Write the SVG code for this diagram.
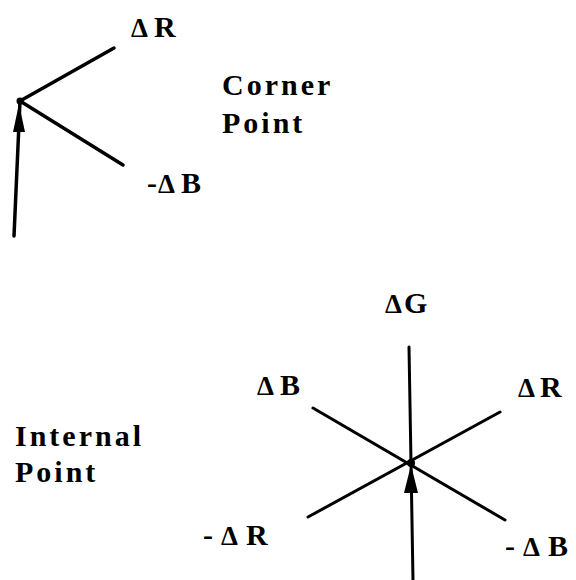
<svg xmlns="http://www.w3.org/2000/svg" width="576" height="580" viewBox="0 0 576 580">
<style>
.t{font-family:"Liberation Serif",serif;font-weight:bold;font-size:30px;fill:#000;letter-spacing:3px}
.d{font-family:"Liberation Serif",serif;font-weight:bold;font-size:30px;fill:#000}
.s{font-size:27px}
.l{stroke:#000;stroke-width:3.5;stroke-linecap:round;fill:none}
.m{stroke:#000;stroke-width:3;stroke-linecap:round;fill:none}
.a{fill:#000}
</style>
<rect width="576" height="580" fill="#fff"/>
<g id="connectors">
<line class="l" x1="20" y1="101" x2="114" y2="48"/>
<line class="l" x1="20" y1="101" x2="123" y2="165"/>
<line class="l" x1="14" y1="236" x2="20" y2="101"/>
<polygon class="a" points="19,104 13,132 25,132"/>
<circle class="a" cx="20" cy="101" r="3.5"/>
<line class="m" x1="409" y1="347" x2="411" y2="463"/>
<line class="m" x1="411" y1="463" x2="413" y2="580"/>
<line class="m" x1="313" y1="408" x2="505" y2="520"/>
<line class="m" x1="500" y1="412" x2="308" y2="517"/>
<polygon class="a" points="411,465 404,493 418,493"/>
<circle class="a" cx="411" cy="463" r="4"/>
</g>
<g id="corner">
<text class="d" y="37"><tspan class="s" x="131">Δ</tspan><tspan x="154">R</tspan></text>
<text class="t" x="222" y="95">Corner</text>
<text class="t" x="222" y="133">Point</text>
<text class="d" y="193"><tspan x="147">-</tspan><tspan class="s" x="158">Δ</tspan><tspan x="181">B</tspan></text>
</g>
<g id="internal">
<text class="d" y="313"><tspan class="s" x="385">Δ</tspan><tspan x="404">G</tspan></text>
<text class="d" y="395"><tspan class="s" x="257">Δ</tspan><tspan x="280">B</tspan></text>
<text class="d" y="397"><tspan class="s" x="518">Δ</tspan><tspan x="540">R</tspan></text>
<text class="t" x="15" y="446">Internal</text>
<text class="t" x="15" y="482">Point</text>
<text class="d" y="545"><tspan x="203">-</tspan><tspan class="s" x="221">Δ</tspan><tspan x="246">R</tspan></text>
<text class="d" y="556"><tspan x="505">-</tspan><tspan class="s" x="523">Δ</tspan><tspan x="548">B</tspan></text>
</g>
</svg>
